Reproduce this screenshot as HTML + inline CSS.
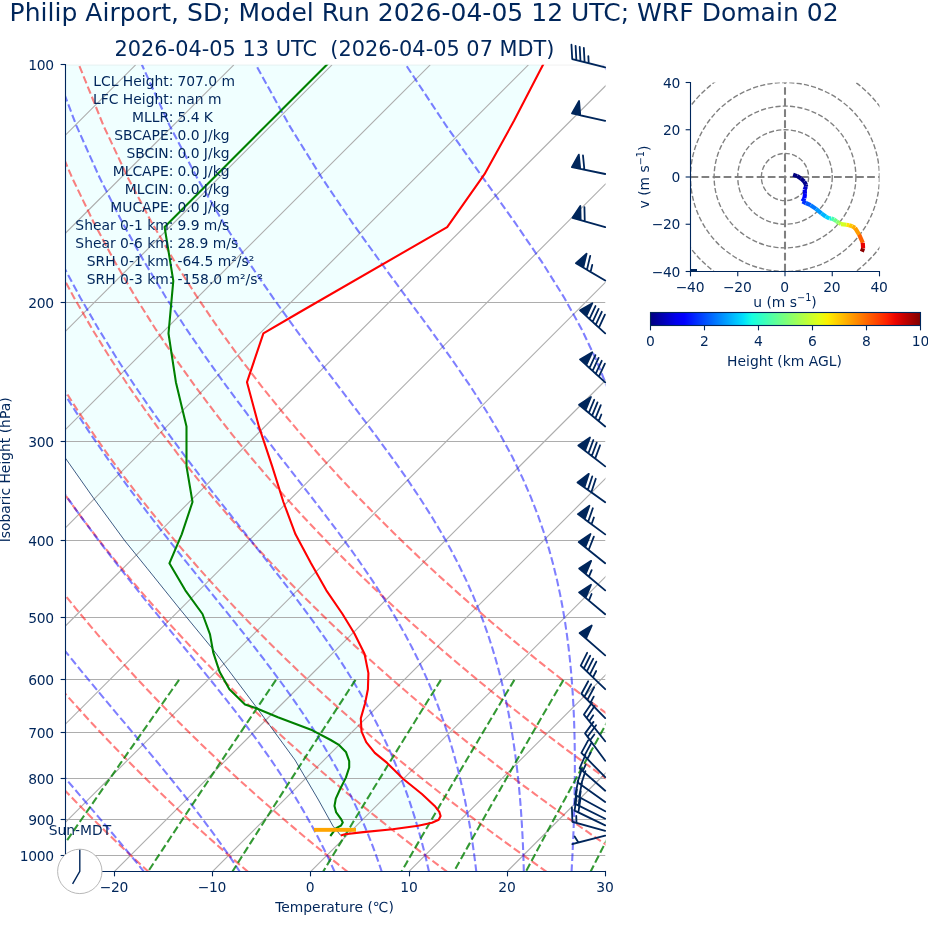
<!DOCTYPE html>
<html><head><meta charset="utf-8"><title>Skew-T</title>
<style>html,body{margin:0;padding:0;background:#fff}svg{display:block;will-change:transform}</style></head>
<body><svg width="928" height="936" viewBox="0 0 928 936">
<rect width="928" height="936" fill="#ffffff"/>
<clipPath id="ax"><rect x="65.5" y="64.8" width="540.0" height="807.1"/></clipPath>
<g clip-path="url(#ax)">
<path d="M340.70,835.40 L333.00,826.10 L318.50,800.00 L295.00,760.00 L257.50,708.70 L212.20,648.40 L179.90,609.10 L147.50,568.80 L124.90,540.90 L93.90,498.60 L65.80,458.70 L63.00,454.80 L63.50,458.70 L63.50,61.50 L544.60,61.50 L543.30,64.20 L514.00,120.80 L484.50,174.20 L447.20,227.10 L300.00,312.00 L263.40,333.30 L247.00,382.20 L258.90,426.40 L272.20,466.30 L283.40,502.00 L295.50,534.30 L311.00,563.30 L326.30,590.30 L342.50,614.00 L354.40,633.50 L364.50,653.80 L368.40,673.10 L367.90,689.30 L365.10,703.30 L360.80,718.40 L361.50,731.30 L366.20,742.10 L374.80,752.90 L387.10,762.90 L403.60,779.20 L421.90,794.00 L434.70,805.90 L439.30,811.90 L440.60,816.00 L438.70,819.70 L432.00,822.80 L418.20,825.70 L392.60,829.20 L363.30,832.10 L345.00,834.30 L340.70,835.40Z" fill="#f0ffff" stroke="none"/>
<path d="M-1162.37,871.9 L-355.27,64.8" stroke="#adadad" stroke-width="1.1" fill="none"/>
<path d="M-1064.19,871.9 L-257.09,64.8" stroke="#adadad" stroke-width="1.1" fill="none"/>
<path d="M-966.01,871.9 L-158.91,64.8" stroke="#adadad" stroke-width="1.1" fill="none"/>
<path d="M-867.83,871.9 L-60.73,64.8" stroke="#adadad" stroke-width="1.1" fill="none"/>
<path d="M-769.65,871.9 L37.45,64.8" stroke="#adadad" stroke-width="1.1" fill="none"/>
<path d="M-671.46,871.9 L135.64,64.8" stroke="#adadad" stroke-width="1.1" fill="none"/>
<path d="M-573.28,871.9 L233.82,64.8" stroke="#adadad" stroke-width="1.1" fill="none"/>
<path d="M-475.10,871.9 L332.00,64.8" stroke="#adadad" stroke-width="1.1" fill="none"/>
<path d="M-376.92,871.9 L430.18,64.8" stroke="#adadad" stroke-width="1.1" fill="none"/>
<path d="M-278.74,871.9 L528.36,64.8" stroke="#adadad" stroke-width="1.1" fill="none"/>
<path d="M-180.55,871.9 L626.55,64.8" stroke="#adadad" stroke-width="1.1" fill="none"/>
<path d="M-82.37,871.9 L724.73,64.8" stroke="#adadad" stroke-width="1.1" fill="none"/>
<path d="M15.81,871.9 L822.91,64.8" stroke="#adadad" stroke-width="1.1" fill="none"/>
<path d="M113.99,871.9 L921.09,64.8" stroke="#adadad" stroke-width="1.1" fill="none"/>
<path d="M212.17,871.9 L1019.27,64.8" stroke="#adadad" stroke-width="1.1" fill="none"/>
<path d="M310.35,871.9 L1117.45,64.8" stroke="#adadad" stroke-width="1.1" fill="none"/>
<path d="M408.54,871.9 L1215.64,64.8" stroke="#adadad" stroke-width="1.1" fill="none"/>
<path d="M506.72,871.9 L1313.82,64.8" stroke="#adadad" stroke-width="1.1" fill="none"/>
<path d="M604.90,871.9 L1412.00,64.8" stroke="#adadad" stroke-width="1.1" fill="none"/>
<path d="M703.08,871.9 L1510.18,64.8" stroke="#adadad" stroke-width="1.1" fill="none"/>
<path d="M801.26,871.9 L1608.36,64.8" stroke="#adadad" stroke-width="1.1" fill="none"/>
<path d="M65.5,64.80 L605.5,64.80" stroke="#adadad" stroke-width="1.1" fill="none" stroke-opacity="0.4"/>
<path d="M65.5,302.50 L605.5,302.50" stroke="#adadad" stroke-width="1.1" fill="none"/>
<path d="M65.5,441.50 L605.5,441.50" stroke="#adadad" stroke-width="1.1" fill="none"/>
<path d="M65.5,540.50 L605.5,540.50" stroke="#adadad" stroke-width="1.1" fill="none"/>
<path d="M65.5,617.50 L605.5,617.50" stroke="#adadad" stroke-width="1.1" fill="none"/>
<path d="M65.5,679.50 L605.5,679.50" stroke="#adadad" stroke-width="1.1" fill="none"/>
<path d="M65.5,732.50 L605.5,732.50" stroke="#adadad" stroke-width="1.1" fill="none"/>
<path d="M65.5,778.50 L605.5,778.50" stroke="#adadad" stroke-width="1.1" fill="none"/>
<path d="M65.5,819.50 L605.5,819.50" stroke="#adadad" stroke-width="1.1" fill="none"/>
<path d="M65.5,855.50 L605.5,855.50" stroke="#adadad" stroke-width="1.1" fill="none"/>
<path d="M-50.37,872.03 L-56.30,865.63 L-62.27,859.11 L-68.29,852.46 L-74.36,845.69 L-80.47,838.77 L-86.64,831.72 L-92.85,824.51 L-99.11,817.16 L-105.43,809.64 L-111.80,801.95 L-118.22,794.08 L-124.69,786.04 L-131.22,777.80 L-137.81,769.35 L-144.45,760.69 L-151.15,751.81 L-157.91,742.70 L-164.72,733.33 L-171.60,723.70 L-178.54,713.80 L-185.54,703.60 L-192.60,693.08 L-199.73,682.24 L-206.92,671.04 L-214.17,659.46 L-221.49,647.48 L-228.86,635.07 L-236.30,622.19 L-243.80,608.81 L-251.36,594.88 L-258.98,580.37 L-266.64,565.22 L-274.36,549.36 L-282.12,532.74 L-289.91,515.27 L-297.72,496.87 L-305.55,477.42 L-313.37,456.81 L-321.15,434.87 L-328.88,411.45 L-336.50,386.30 L-343.96,359.16 L-351.19,329.70 L-358.08,297.46 L-364.48,261.88 L-370.19,222.19 L-374.86,177.30 L-377.99,125.63 L-378.73,64.80" stroke="#ff0000" stroke-opacity="0.5" stroke-width="2.08" stroke-dasharray="7.71 3.33" fill="none"/>
<path d="M49.19,872.03 L42.74,865.63 L36.23,859.11 L29.66,852.46 L23.04,845.69 L16.37,838.77 L9.64,831.72 L2.85,824.51 L-4.00,817.16 L-10.91,809.64 L-17.88,801.95 L-24.91,794.08 L-32.01,786.04 L-39.17,777.80 L-46.40,769.35 L-53.70,760.69 L-61.07,751.81 L-68.51,742.70 L-76.02,733.33 L-83.60,723.70 L-91.27,713.80 L-99.00,703.60 L-106.82,693.08 L-114.72,682.24 L-122.69,671.04 L-130.75,659.46 L-138.90,647.48 L-147.12,635.07 L-155.43,622.19 L-163.83,608.81 L-172.31,594.88 L-180.87,580.37 L-189.52,565.22 L-198.25,549.36 L-207.05,532.74 L-215.92,515.27 L-224.86,496.87 L-233.86,477.42 L-242.90,456.81 L-251.96,434.87 L-261.02,411.45 L-270.04,386.30 L-278.99,359.16 L-287.79,329.70 L-296.36,297.46 L-304.57,261.88 L-312.22,222.19 L-319.02,177.30 L-324.50,125.63 L-327.88,64.80" stroke="#ff0000" stroke-opacity="0.5" stroke-width="2.08" stroke-dasharray="7.71 3.33" fill="none"/>
<path d="M148.75,872.03 L141.77,865.63 L134.72,859.11 L127.61,852.46 L120.44,845.69 L113.21,838.77 L105.91,831.72 L98.55,824.51 L91.12,817.16 L83.62,809.64 L76.04,801.95 L68.40,794.08 L60.68,786.04 L52.88,777.80 L45.01,769.35 L37.05,760.69 L29.01,751.81 L20.89,742.70 L12.69,733.33 L4.39,723.70 L-3.99,713.80 L-12.47,703.60 L-21.04,693.08 L-29.70,682.24 L-38.47,671.04 L-47.34,659.46 L-56.31,647.48 L-65.38,635.07 L-74.56,622.19 L-83.86,608.81 L-93.26,594.88 L-102.77,580.37 L-112.40,565.22 L-122.13,549.36 L-131.98,532.74 L-141.94,515.27 L-152.00,496.87 L-162.17,477.42 L-172.43,456.81 L-182.76,434.87 L-193.16,411.45 L-203.59,386.30 L-214.02,359.16 L-224.40,329.70 L-234.64,297.46 L-244.65,261.88 L-254.25,222.19 L-263.17,177.30 L-271.00,125.63 L-277.02,64.80" stroke="#ff0000" stroke-opacity="0.5" stroke-width="2.08" stroke-dasharray="7.71 3.33" fill="none"/>
<path d="M248.31,872.03 L240.80,865.63 L233.22,859.11 L225.57,852.46 L217.85,845.69 L210.05,838.77 L202.19,831.72 L194.25,824.51 L186.23,817.16 L178.14,809.64 L169.96,801.95 L161.70,794.08 L153.36,786.04 L144.93,777.80 L136.41,769.35 L127.80,760.69 L119.10,751.81 L110.30,742.70 L101.40,733.33 L92.39,723.70 L83.29,713.80 L74.07,703.60 L64.75,693.08 L55.31,682.24 L45.76,671.04 L36.08,659.46 L26.28,647.48 L16.36,635.07 L6.31,622.19 L-3.88,608.81 L-14.20,594.88 L-24.67,580.37 L-35.27,565.22 L-46.02,549.36 L-56.91,532.74 L-67.96,515.27 L-79.14,496.87 L-90.48,477.42 L-101.95,456.81 L-113.56,434.87 L-125.30,411.45 L-137.13,386.30 L-149.05,359.16 L-161.00,329.70 L-172.93,297.46 L-184.73,261.88 L-196.27,222.19 L-207.33,177.30 L-217.51,125.63 L-226.17,64.80" stroke="#ff0000" stroke-opacity="0.5" stroke-width="2.08" stroke-dasharray="7.71 3.33" fill="none"/>
<path d="M347.87,872.03 L339.83,865.63 L331.71,859.11 L323.52,852.46 L315.25,845.69 L306.90,838.77 L298.46,831.72 L289.95,824.51 L281.35,817.16 L272.66,809.64 L263.88,801.95 L255.01,794.08 L246.04,786.04 L236.98,777.80 L227.82,769.35 L218.55,760.69 L209.18,751.81 L199.70,742.70 L190.10,733.33 L180.39,723.70 L170.56,713.80 L160.61,703.60 L150.53,693.08 L140.32,682.24 L129.98,671.04 L119.50,659.46 L108.87,647.48 L98.10,635.07 L87.17,622.19 L76.09,608.81 L64.85,594.88 L53.44,580.37 L41.85,565.22 L30.09,549.36 L18.15,532.74 L6.03,515.27 L-6.28,496.87 L-18.79,477.42 L-31.48,456.81 L-44.37,434.87 L-57.44,411.45 L-70.68,386.30 L-84.08,359.16 L-97.60,329.70 L-111.21,297.46 L-124.81,261.88 L-138.30,222.19 L-151.48,177.30 L-164.01,125.63 L-175.32,64.80" stroke="#ff0000" stroke-opacity="0.5" stroke-width="2.08" stroke-dasharray="7.71 3.33" fill="none"/>
<path d="M447.43,872.03 L438.86,865.63 L430.21,859.11 L421.47,852.46 L412.65,845.69 L403.74,838.77 L394.74,831.72 L385.65,824.51 L376.46,817.16 L367.18,809.64 L357.80,801.95 L348.32,794.08 L338.73,786.04 L329.03,777.80 L319.22,769.35 L309.30,760.69 L299.26,751.81 L289.10,742.70 L278.81,733.33 L268.39,723.70 L257.84,713.80 L247.15,703.60 L236.32,693.08 L225.34,682.24 L214.20,671.04 L202.92,659.46 L191.46,647.48 L179.84,635.07 L168.04,622.19 L156.07,608.81 L143.90,594.88 L131.54,580.37 L118.98,565.22 L106.21,549.36 L93.22,532.74 L80.01,515.27 L66.57,496.87 L52.90,477.42 L38.99,456.81 L24.83,434.87 L10.42,411.45 L-4.23,386.30 L-19.11,359.16 L-34.21,329.70 L-49.49,297.46 L-64.90,261.88 L-80.33,222.19 L-95.64,177.30 L-110.52,125.63 L-124.46,64.80" stroke="#ff0000" stroke-opacity="0.5" stroke-width="2.08" stroke-dasharray="7.71 3.33" fill="none"/>
<path d="M546.99,872.03 L537.89,865.63 L528.70,859.11 L519.42,852.46 L510.05,845.69 L500.58,838.77 L491.02,831.72 L481.35,824.51 L471.58,817.16 L461.70,809.64 L451.72,801.95 L441.62,794.08 L431.41,786.04 L421.08,777.80 L410.63,769.35 L400.05,760.69 L389.34,751.81 L378.50,742.70 L367.51,733.33 L356.39,723.70 L345.11,713.80 L333.69,703.60 L322.10,693.08 L310.35,682.24 L298.43,671.04 L286.33,659.46 L274.05,647.48 L261.58,635.07 L248.91,622.19 L236.04,608.81 L222.95,594.88 L209.64,580.37 L196.10,565.22 L182.32,549.36 L168.29,532.74 L154.00,515.27 L139.43,496.87 L124.59,477.42 L109.46,456.81 L94.02,434.87 L78.28,411.45 L62.23,386.30 L45.86,359.16 L29.19,329.70 L12.23,297.46 L-4.98,261.88 L-22.36,222.19 L-39.79,177.30 L-57.03,125.63 L-73.61,64.80" stroke="#ff0000" stroke-opacity="0.5" stroke-width="2.08" stroke-dasharray="7.71 3.33" fill="none"/>
<path d="M646.55,872.03 L636.92,865.63 L627.20,859.11 L617.37,852.46 L607.45,845.69 L597.42,838.77 L587.29,831.72 L577.05,824.51 L566.70,817.16 L556.23,809.64 L545.64,801.95 L534.93,794.08 L524.10,786.04 L513.13,777.80 L502.03,769.35 L490.80,760.69 L479.42,751.81 L467.90,742.70 L456.22,733.33 L444.39,723.70 L432.39,713.80 L420.23,703.60 L407.89,693.08 L395.36,682.24 L382.65,671.04 L369.75,659.46 L356.64,647.48 L343.32,635.07 L329.78,622.19 L316.01,608.81 L302.00,594.88 L287.75,580.37 L273.23,565.22 L258.43,549.36 L243.36,532.74 L227.98,515.27 L212.29,496.87 L196.28,477.42 L179.93,456.81 L163.22,434.87 L146.14,411.45 L128.68,386.30 L110.83,359.16 L92.59,329.70 L73.95,297.46 L54.94,261.88 L35.61,222.19 L16.05,177.30 L-3.53,125.63 L-22.76,64.80" stroke="#ff0000" stroke-opacity="0.5" stroke-width="2.08" stroke-dasharray="7.71 3.33" fill="none"/>
<path d="M746.11,872.03 L735.95,865.63 L725.69,859.11 L715.33,852.46 L704.85,845.69 L694.27,838.77 L683.57,831.72 L672.75,824.51 L661.81,817.16 L650.75,809.64 L639.56,801.95 L628.24,794.08 L616.78,786.04 L605.18,777.80 L593.44,769.35 L581.55,760.69 L569.50,751.81 L557.30,742.70 L544.93,733.33 L532.39,723.70 L519.67,713.80 L506.76,703.60 L493.67,693.08 L480.38,682.24 L466.88,671.04 L453.17,659.46 L439.23,647.48 L425.06,635.07 L410.65,622.19 L395.99,608.81 L381.06,594.88 L365.85,580.37 L350.35,565.22 L334.55,549.36 L318.42,532.74 L301.97,515.27 L285.15,496.87 L267.97,477.42 L250.40,456.81 L232.42,434.87 L214.00,411.45 L195.14,386.30 L175.80,359.16 L155.98,329.70 L135.67,297.46 L114.86,261.88 L93.58,222.19 L71.90,177.30 L49.96,125.63 L28.10,64.80" stroke="#ff0000" stroke-opacity="0.5" stroke-width="2.08" stroke-dasharray="7.71 3.33" fill="none"/>
<path d="M845.67,872.03 L834.99,865.63 L824.19,859.11 L813.28,852.46 L802.25,845.69 L791.11,838.77 L779.84,831.72 L768.45,824.51 L756.93,817.16 L745.27,809.64 L733.48,801.95 L721.54,794.08 L709.46,786.04 L697.23,777.80 L684.85,769.35 L672.30,760.69 L659.58,751.81 L646.70,742.70 L633.63,733.33 L620.38,723.70 L606.94,713.80 L593.30,703.60 L579.45,693.08 L565.39,682.24 L551.10,671.04 L536.58,659.46 L521.82,647.48 L506.80,635.07 L491.52,622.19 L475.96,608.81 L460.11,594.88 L443.95,580.37 L427.47,565.22 L410.66,549.36 L393.49,532.74 L375.95,515.27 L358.01,496.87 L339.66,477.42 L320.87,456.81 L301.61,434.87 L281.86,411.45 L261.59,386.30 L240.77,359.16 L219.38,329.70 L197.39,297.46 L174.77,261.88 L151.55,222.19 L127.74,177.30 L103.46,125.63 L78.95,64.80" stroke="#ff0000" stroke-opacity="0.5" stroke-width="2.08" stroke-dasharray="7.71 3.33" fill="none"/>
<path d="M-51.25,872.03 L-56.81,865.63 L-62.45,859.11 L-68.16,852.46 L-73.95,845.69 L-79.81,838.77 L-85.74,831.72 L-91.74,824.51 L-97.82,817.16 L-103.96,809.64 L-110.18,801.95 L-116.47,794.08 L-122.83,786.04 L-129.26,777.80 L-135.76,769.35 L-142.33,760.69 L-148.97,751.81 L-155.67,742.70 L-162.45,733.33 L-169.30,723.70 L-176.21,713.80 L-183.20,703.60 L-190.25,693.08 L-197.37,682.24 L-204.56,671.04 L-211.82,659.46 L-219.14,647.48 L-226.54,635.07 L-233.99,622.19 L-241.51,608.81 L-249.09,594.88 L-256.73,580.37 L-264.42,565.22 L-272.16,549.36 L-279.95,532.74 L-287.77,515.27 L-295.62,496.87 L-303.47,477.42 L-311.33,456.81 L-319.15,434.87 L-326.91,411.45 L-334.57,386.30 L-342.08,359.16 L-349.35,329.70 L-356.29,297.46 L-362.75,261.88 L-368.50,222.19 L-373.24,177.30 L-376.44,125.63 L-377.25,64.80" stroke="#0000ff" stroke-opacity="0.5" stroke-width="2.08" stroke-dasharray="7.71 3.33" fill="none"/>
<path d="M47.06,872.03 L41.48,865.63 L35.78,859.11 L29.97,852.46 L24.06,845.69 L18.03,838.77 L11.90,831.72 L5.65,824.51 L-0.70,817.16 L-7.15,809.64 L-13.72,801.95 L-20.39,794.08 L-27.16,786.04 L-34.04,777.80 L-41.02,769.35 L-48.11,760.69 L-55.29,751.81 L-62.57,742.70 L-69.96,733.33 L-77.44,723.70 L-85.02,713.80 L-92.70,703.60 L-100.47,693.08 L-108.35,682.24 L-116.31,671.04 L-124.38,659.46 L-132.54,647.48 L-140.79,635.07 L-149.14,622.19 L-157.58,608.81 L-166.11,594.88 L-174.74,580.37 L-183.45,565.22 L-192.25,549.36 L-201.13,532.74 L-210.08,515.27 L-219.11,496.87 L-228.19,477.42 L-237.32,456.81 L-246.48,434.87 L-255.65,411.45 L-264.78,386.30 L-273.85,359.16 L-282.78,329.70 L-291.48,297.46 L-299.82,261.88 L-307.63,222.19 L-314.59,177.30 L-320.26,125.63 L-323.85,64.80" stroke="#0000ff" stroke-opacity="0.5" stroke-width="2.08" stroke-dasharray="7.71 3.33" fill="none"/>
<path d="M144.25,872.03 L139.08,865.63 L133.76,859.11 L128.29,852.46 L122.67,845.69 L116.89,838.77 L110.95,831.72 L104.85,824.51 L98.60,817.16 L92.18,809.64 L85.60,801.95 L78.87,794.08 L71.97,786.04 L64.92,777.80 L57.71,769.35 L50.34,760.69 L42.82,751.81 L35.15,742.70 L27.32,733.33 L19.34,723.70 L11.22,713.80 L2.95,703.60 L-5.47,693.08 L-14.02,682.24 L-22.72,671.04 L-31.56,659.46 L-40.54,647.48 L-49.65,635.07 L-58.90,622.19 L-68.28,608.81 L-77.79,594.88 L-87.44,580.37 L-97.22,565.22 L-107.12,549.36 L-117.15,532.74 L-127.31,515.27 L-137.58,496.87 L-147.97,477.42 L-158.46,456.81 L-169.05,434.87 L-179.71,411.45 L-190.41,386.30 L-201.14,359.16 L-211.83,329.70 L-222.40,297.46 L-232.77,261.88 L-242.75,222.19 L-252.09,177.30 L-260.39,125.63 L-266.94,64.80" stroke="#0000ff" stroke-opacity="0.5" stroke-width="2.08" stroke-dasharray="7.71 3.33" fill="none"/>
<path d="M240.04,872.03 L235.82,865.63 L231.42,859.11 L226.85,852.46 L222.09,845.69 L217.15,838.77 L212.02,831.72 L206.68,824.51 L201.13,817.16 L195.37,809.64 L189.40,801.95 L183.20,794.08 L176.78,786.04 L170.12,777.80 L163.24,769.35 L156.11,760.69 L148.75,751.81 L141.16,742.70 L133.32,733.33 L125.24,723.70 L116.93,713.80 L108.39,703.60 L99.61,693.08 L90.61,682.24 L81.38,671.04 L71.92,659.46 L62.25,647.48 L52.37,635.07 L42.28,622.19 L31.97,608.81 L21.47,594.88 L10.77,580.37 L-0.13,565.22 L-11.22,549.36 L-22.51,532.74 L-33.98,515.27 L-45.64,496.87 L-57.47,477.42 L-69.49,456.81 L-81.67,434.87 L-94.01,411.45 L-106.48,386.30 L-119.08,359.16 L-131.75,329.70 L-144.45,297.46 L-157.09,261.88 L-169.53,222.19 L-181.56,177.30 L-192.83,125.63 L-202.71,64.80" stroke="#0000ff" stroke-opacity="0.5" stroke-width="2.08" stroke-dasharray="7.71 3.33" fill="none"/>
<path d="M334.72,872.03 L331.83,865.63 L328.80,859.11 L325.62,852.46 L322.27,845.69 L318.75,838.77 L315.04,831.72 L311.15,824.51 L307.04,817.16 L302.72,809.64 L298.17,801.95 L293.38,794.08 L288.33,786.04 L283.01,777.80 L277.42,769.35 L271.52,760.69 L265.32,751.81 L258.80,742.70 L251.95,733.33 L244.75,723.70 L237.20,713.80 L229.29,703.60 L221.00,693.08 L212.35,682.24 L203.31,671.04 L193.90,659.46 L184.11,647.48 L173.95,635.07 L163.41,622.19 L152.51,608.81 L141.25,594.88 L129.65,580.37 L117.70,565.22 L105.43,549.36 L92.83,532.74 L79.92,515.27 L66.71,496.87 L53.20,477.42 L39.40,456.81 L25.31,434.87 L10.95,411.45 L-3.67,386.30 L-18.55,359.16 L-33.65,329.70 L-48.94,297.46 L-64.36,261.88 L-79.81,222.19 L-95.13,177.30 L-110.03,125.63 L-124.00,64.80" stroke="#0000ff" stroke-opacity="0.5" stroke-width="2.08" stroke-dasharray="7.71 3.33" fill="none"/>
<path d="M381.87,872.03 L379.72,865.63 L377.44,859.11 L375.04,852.46 L372.50,845.69 L369.82,838.77 L366.98,831.72 L363.97,824.51 L360.79,817.16 L357.42,809.64 L353.84,801.95 L350.04,794.08 L346.00,786.04 L341.72,777.80 L337.17,769.35 L332.33,760.69 L327.19,751.81 L321.72,742.70 L315.91,733.33 L309.73,723.70 L303.17,713.80 L296.21,703.60 L288.82,693.08 L280.99,682.24 L272.70,671.04 L263.94,659.46 L254.69,647.48 L244.95,635.07 L234.72,622.19 L223.99,608.81 L212.76,594.88 L201.04,580.37 L188.85,565.22 L176.18,549.36 L163.06,532.74 L149.51,515.27 L135.52,496.87 L121.13,477.42 L106.34,456.81 L91.16,434.87 L75.61,411.45 L59.71,386.30 L43.45,359.16 L26.87,329.70 L9.99,297.46 L-7.14,261.88 L-24.45,222.19 L-41.80,177.30 L-58.95,125.63 L-75.44,64.80" stroke="#0000ff" stroke-opacity="0.5" stroke-width="2.08" stroke-dasharray="7.71 3.33" fill="none"/>
<path d="M429.05,872.03 L427.61,865.63 L426.09,859.11 L424.46,852.46 L422.74,845.69 L420.90,838.77 L418.94,831.72 L416.86,824.51 L414.63,817.16 L412.26,809.64 L409.72,801.95 L407.01,794.08 L404.10,786.04 L400.99,777.80 L397.65,769.35 L394.07,760.69 L390.22,751.81 L386.09,742.70 L381.65,733.33 L376.87,723.70 L371.72,713.80 L366.19,703.60 L360.22,693.08 L353.81,682.24 L346.90,671.04 L339.46,659.46 L331.48,647.48 L322.90,635.07 L313.71,622.19 L303.88,608.81 L293.39,594.88 L282.23,580.37 L270.39,565.22 L257.86,549.36 L244.67,532.74 L230.81,515.27 L216.31,496.87 L201.20,477.42 L185.49,456.81 L169.22,434.87 L152.41,411.45 L135.08,386.30 L117.25,359.16 L98.95,329.70 L80.20,297.46 L61.04,261.88 L41.53,222.19 L21.76,177.30 L1.94,125.63 L-17.55,64.80" stroke="#0000ff" stroke-opacity="0.5" stroke-width="2.08" stroke-dasharray="7.71 3.33" fill="none"/>
<path d="M476.35,872.03 L475.58,865.63 L474.76,859.11 L473.87,852.46 L472.91,845.69 L471.87,838.77 L470.76,831.72 L469.55,824.51 L468.25,817.16 L466.85,809.64 L465.33,801.95 L463.69,794.08 L461.91,786.04 L459.98,777.80 L457.89,769.35 L455.61,760.69 L453.15,751.81 L450.46,742.70 L447.54,733.33 L444.35,723.70 L440.88,713.80 L437.08,703.60 L432.93,693.08 L428.38,682.24 L423.41,671.04 L417.95,659.46 L411.97,647.48 L405.41,635.07 L398.22,622.19 L390.34,608.81 L381.70,594.88 L372.25,580.37 L361.95,565.22 L350.73,549.36 L338.56,532.74 L325.42,515.27 L311.29,496.87 L296.19,477.42 L280.13,456.81 L263.14,434.87 L245.27,411.45 L226.56,386.30 L207.07,359.16 L186.84,329.70 L165.92,297.46 L144.34,261.88 L122.16,222.19 L99.46,177.30 L76.37,125.63 L53.21,64.80" stroke="#0000ff" stroke-opacity="0.5" stroke-width="2.08" stroke-dasharray="7.71 3.33" fill="none"/>
<path d="M523.84,872.03 L523.67,865.63 L523.47,859.11 L523.24,852.46 L522.97,845.69 L522.65,838.77 L522.29,831.72 L521.88,824.51 L521.42,817.16 L520.89,809.64 L520.30,801.95 L519.63,794.08 L518.88,786.04 L518.04,777.80 L517.10,769.35 L516.05,760.69 L514.88,751.81 L513.57,742.70 L512.11,733.33 L510.47,723.70 L508.65,713.80 L506.62,703.60 L504.34,693.08 L501.79,682.24 L498.94,671.04 L495.75,659.46 L492.16,647.48 L488.13,635.07 L483.60,622.19 L478.50,608.81 L472.74,594.88 L466.25,580.37 L458.93,565.22 L450.67,549.36 L441.36,532.74 L430.87,515.27 L419.11,496.87 L405.97,477.42 L391.36,456.81 L375.23,434.87 L357.58,411.45 L338.44,386.30 L317.85,359.16 L295.93,329.70 L272.76,297.46 L248.45,261.88 L223.10,222.19 L196.79,177.30 L169.65,125.63 L141.89,64.80" stroke="#0000ff" stroke-opacity="0.5" stroke-width="2.08" stroke-dasharray="7.71 3.33" fill="none"/>
<path d="M571.54,872.03 L571.90,865.63 L572.24,859.11 L572.57,852.46 L572.89,845.69 L573.19,838.77 L573.48,831.72 L573.75,824.51 L574.00,817.16 L574.22,809.64 L574.42,801.95 L574.58,794.08 L574.72,786.04 L574.81,777.80 L574.85,769.35 L574.85,760.69 L574.79,751.81 L574.66,742.70 L574.46,733.33 L574.17,723.70 L573.79,713.80 L573.30,703.60 L572.69,693.08 L571.93,682.24 L571.00,671.04 L569.89,659.46 L568.55,647.48 L566.96,635.07 L565.08,622.19 L562.85,608.81 L560.21,594.88 L557.10,580.37 L553.42,565.22 L549.08,549.36 L543.96,532.74 L537.90,515.27 L530.74,496.87 L522.27,477.42 L512.25,456.81 L500.43,434.87 L486.56,411.45 L470.38,386.30 L451.70,359.16 L430.44,329.70 L406.61,297.46 L380.36,261.88 L351.91,222.19 L321.51,177.30 L289.41,125.63 L255.85,64.80" stroke="#0000ff" stroke-opacity="0.5" stroke-width="2.08" stroke-dasharray="7.71 3.33" fill="none"/>
<path d="M619.48,872.03 L620.27,865.63 L621.06,859.11 L621.86,852.46 L622.67,845.69 L623.49,838.77 L624.31,831.72 L625.14,824.51 L625.97,817.16 L626.81,809.64 L627.65,801.95 L628.49,794.08 L629.34,786.04 L630.18,777.80 L631.03,769.35 L631.87,760.69 L632.70,751.81 L633.52,742.70 L634.33,733.33 L635.12,723.70 L635.89,713.80 L636.63,703.60 L637.34,693.08 L638.00,682.24 L638.61,671.04 L639.16,659.46 L639.64,647.48 L640.01,635.07 L640.28,622.19 L640.41,608.81 L640.37,594.88 L640.13,580.37 L639.63,565.22 L638.83,549.36 L637.66,532.74 L636.01,515.27 L633.78,496.87 L630.82,477.42 L626.93,456.81 L621.87,434.87 L615.31,411.45 L606.83,386.30 L595.91,359.16 L581.90,329.70 L564.10,297.46 L541.83,261.88 L514.67,222.19 L482.61,177.30 L446.08,125.63 L405.81,64.80" stroke="#0000ff" stroke-opacity="0.5" stroke-width="2.08" stroke-dasharray="7.71 3.33" fill="none"/>
<path d="M667.64,872.03 L668.78,865.63 L669.93,859.11 L671.11,852.46 L672.31,845.69 L673.54,838.77 L674.79,831.72 L676.06,824.51 L677.36,817.16 L678.68,809.64 L680.03,801.95 L681.41,794.08 L682.81,786.04 L684.25,777.80 L685.71,769.35 L687.20,760.69 L688.72,751.81 L690.27,742.70 L691.84,733.33 L693.45,723.70 L695.09,713.80 L696.76,703.60 L698.46,693.08 L700.19,682.24 L701.94,671.04 L703.72,659.46 L705.52,647.48 L707.34,635.07 L709.18,622.19 L711.02,608.81 L712.86,594.88 L714.70,580.37 L716.50,565.22 L718.27,549.36 L719.97,532.74 L721.57,515.27 L723.03,496.87 L724.29,477.42 L725.27,456.81 L725.87,434.87 L725.93,411.45 L725.25,386.30 L723.50,359.16 L720.25,329.70 L714.82,297.46 L706.19,261.88 L692.89,222.19 L672.83,177.30 L643.60,125.63 L603.50,64.80" stroke="#0000ff" stroke-opacity="0.5" stroke-width="2.08" stroke-dasharray="7.71 3.33" fill="none"/>
<path d="M716.00,872.03 L717.41,865.63 L718.85,859.11 L720.33,852.46 L721.84,845.69 L723.38,838.77 L724.96,831.72 L726.58,824.51 L728.23,817.16 L729.93,809.64 L731.67,801.95 L733.45,794.08 L735.28,786.04 L737.15,777.80 L739.08,769.35 L741.06,760.69 L743.09,751.81 L745.18,742.70 L747.33,733.33 L749.54,723.70 L751.81,713.80 L754.16,703.60 L756.57,693.08 L759.06,682.24 L761.63,671.04 L764.28,659.46 L767.02,647.48 L769.85,635.07 L772.77,622.19 L775.79,608.81 L778.92,594.88 L782.16,580.37 L785.51,565.22 L788.98,549.36 L792.57,532.74 L796.28,515.27 L800.12,496.87 L804.09,477.42 L808.17,456.81 L812.35,434.87 L816.62,411.45 L820.93,386.30 L825.21,359.16 L829.36,329.70 L833.18,297.46 L836.36,261.88 L838.31,222.19 L838.01,177.30 L833.43,125.63 L820.57,64.80" stroke="#0000ff" stroke-opacity="0.5" stroke-width="2.08" stroke-dasharray="7.71 3.33" fill="none"/>
<path d="M764.54,872.03 L766.16,865.63 L767.82,859.11 L769.52,852.46 L771.25,845.69 L773.04,838.77 L774.86,831.72 L776.74,824.51 L778.66,817.16 L780.63,809.64 L782.66,801.95 L784.74,794.08 L786.88,786.04 L789.09,777.80 L791.35,769.35 L793.69,760.69 L796.09,751.81 L798.57,742.70 L801.13,733.33 L803.77,723.70 L806.50,713.80 L809.32,703.60 L812.24,693.08 L815.27,682.24 L818.40,671.04 L821.66,659.46 L825.04,647.48 L828.55,635.07 L832.21,622.19 L836.03,608.81 L840.01,594.88 L844.18,580.37 L848.54,565.22 L853.11,549.36 L857.90,532.74 L862.95,515.27 L868.28,496.87 L873.90,477.42 L879.85,456.81 L886.16,434.87 L892.88,411.45 L900.04,386.30 L907.69,359.16 L915.88,329.70 L924.68,297.46 L934.13,261.88 L944.25,222.19 L955.01,177.30 L966.22,125.63 L977.23,64.80" stroke="#0000ff" stroke-opacity="0.5" stroke-width="2.08" stroke-dasharray="7.71 3.33" fill="none"/>
<path d="M813.22,872.03 L815.00,865.63 L816.81,859.11 L818.68,852.46 L820.58,845.69 L822.54,838.77 L824.55,831.72 L826.60,824.51 L828.72,817.16 L830.89,809.64 L833.13,801.95 L835.42,794.08 L837.79,786.04 L840.22,777.80 L842.73,769.35 L845.31,760.69 L847.98,751.81 L850.73,742.70 L853.57,733.33 L856.51,723.70 L859.56,713.80 L862.71,703.60 L865.98,693.08 L869.37,682.24 L872.89,671.04 L876.55,659.46 L880.37,647.48 L884.34,635.07 L888.49,622.19 L892.83,608.81 L897.38,594.88 L902.14,580.37 L907.15,565.22 L912.43,549.36 L917.99,532.74 L923.87,515.27 L930.11,496.87 L936.75,477.42 L943.82,456.81 L951.40,434.87 L959.54,411.45 L968.32,386.30 L977.86,359.16 L988.26,329.70 L999.68,297.46 L1012.32,261.88 L1026.44,222.19 L1042.38,177.30 L1060.61,125.63 L1081.77,64.80" stroke="#0000ff" stroke-opacity="0.5" stroke-width="2.08" stroke-dasharray="7.71 3.33" fill="none"/>
<path d="M179.04,679.91 L175.37,685.13 L171.75,690.26 L168.18,695.32 L164.67,700.31 L161.22,705.23 L157.81,710.07 L154.45,714.85 L151.14,719.57 L147.88,724.22 L144.66,728.80 L141.49,733.33 L138.36,737.80 L135.27,742.21 L132.22,746.56 L129.22,750.87 L126.25,755.11 L123.32,759.31 L120.42,763.45 L117.56,767.55 L114.74,771.59 L111.95,775.59 L109.20,779.55 L106.47,783.46 L103.78,787.32 L101.12,791.14 L98.50,794.92 L95.90,798.66 L93.33,802.36 L90.79,806.02 L88.27,809.64 L85.79,813.22 L83.33,816.76 L80.89,820.27 L78.49,823.75 L76.11,827.19 L73.75,830.59 L71.42,833.96 L69.11,837.30 L66.82,840.61 L64.56,843.88 L62.32,847.12 L60.10,850.34 L57.90,853.52 L55.72,856.68 L53.57,859.80 L51.43,862.90 L49.32,865.97 L47.22,869.01 L45.14,872.03" stroke="#008000" stroke-opacity="0.8" stroke-width="2.08" stroke-dasharray="7.71 3.33" fill="none"/>
<path d="M276.00,679.91 L272.47,685.13 L269.00,690.26 L265.58,695.32 L262.21,700.31 L258.89,705.23 L255.62,710.07 L252.40,714.85 L249.23,719.57 L246.10,724.22 L243.02,728.80 L239.97,733.33 L236.97,737.80 L234.01,742.21 L231.09,746.56 L228.21,750.87 L225.37,755.11 L222.56,759.31 L219.78,763.45 L217.05,767.55 L214.34,771.59 L211.67,775.59 L209.03,779.55 L206.43,783.46 L203.85,787.32 L201.30,791.14 L198.79,794.92 L196.30,798.66 L193.84,802.36 L191.41,806.02 L189.01,809.64 L186.63,813.22 L184.27,816.76 L181.95,820.27 L179.64,823.75 L177.37,827.19 L175.11,830.59 L172.88,833.96 L170.67,837.30 L168.49,840.61 L166.32,843.88 L164.18,847.12 L162.06,850.34 L159.96,853.52 L157.88,856.68 L155.82,859.80 L153.78,862.90 L151.76,865.97 L149.76,869.01 L147.77,872.03" stroke="#008000" stroke-opacity="0.8" stroke-width="2.08" stroke-dasharray="7.71 3.33" fill="none"/>
<path d="M355.50,679.91 L352.10,685.13 L348.75,690.26 L345.45,695.32 L342.21,700.31 L339.01,705.23 L335.86,710.07 L332.76,714.85 L329.70,719.57 L326.69,724.22 L323.71,728.80 L320.78,733.33 L317.89,737.80 L315.04,742.21 L312.23,746.56 L309.46,750.87 L306.72,755.11 L304.02,759.31 L301.35,763.45 L298.71,767.55 L296.11,771.59 L293.54,775.59 L291.00,779.55 L288.49,783.46 L286.02,787.32 L283.57,791.14 L281.15,794.92 L278.75,798.66 L276.39,802.36 L274.05,806.02 L271.74,809.64 L269.45,813.22 L267.19,816.76 L264.95,820.27 L262.74,823.75 L260.55,827.19 L258.39,830.59 L256.24,833.96 L254.12,837.30 L252.02,840.61 L249.94,843.88 L247.89,847.12 L245.85,850.34 L243.83,853.52 L241.83,856.68 L239.86,859.80 L237.90,862.90 L235.96,865.97 L234.03,869.01 L232.13,872.03" stroke="#008000" stroke-opacity="0.8" stroke-width="2.08" stroke-dasharray="7.71 3.33" fill="none"/>
<path d="M440.87,679.91 L437.60,685.13 L434.39,690.26 L431.23,695.32 L428.12,700.31 L425.06,705.23 L422.04,710.07 L419.07,714.85 L416.14,719.57 L413.25,724.22 L410.41,728.80 L407.60,733.33 L404.84,737.80 L402.11,742.21 L399.42,746.56 L396.76,750.87 L394.14,755.11 L391.56,759.31 L389.00,763.45 L386.48,767.55 L383.99,771.59 L381.54,775.59 L379.11,779.55 L376.71,783.46 L374.34,787.32 L372.00,791.14 L369.69,794.92 L367.41,798.66 L365.15,802.36 L362.91,806.02 L360.70,809.64 L358.52,813.22 L356.36,816.76 L354.22,820.27 L352.11,823.75 L350.02,827.19 L347.95,830.59 L345.91,833.96 L343.88,837.30 L341.88,840.61 L339.90,843.88 L337.93,847.12 L335.99,850.34 L334.07,853.52 L332.16,856.68 L330.27,859.80 L328.41,862.90 L326.56,865.97 L324.72,869.01 L322.91,872.03" stroke="#008000" stroke-opacity="0.8" stroke-width="2.08" stroke-dasharray="7.71 3.33" fill="none"/>
<path d="M514.37,679.91 L511.23,685.13 L508.15,690.26 L505.11,695.32 L502.12,700.31 L499.18,705.23 L496.28,710.07 L493.42,714.85 L490.61,719.57 L487.83,724.22 L485.10,728.80 L482.41,733.33 L479.75,737.80 L477.13,742.21 L474.55,746.56 L472.00,750.87 L469.48,755.11 L467.00,759.31 L464.55,763.45 L462.14,767.55 L459.75,771.59 L457.39,775.59 L455.07,779.55 L452.77,783.46 L450.50,787.32 L448.25,791.14 L446.03,794.92 L443.84,798.66 L441.68,802.36 L439.54,806.02 L437.42,809.64 L435.33,813.22 L433.26,816.76 L431.22,820.27 L429.19,823.75 L427.19,827.19 L425.21,830.59 L423.25,833.96 L421.31,837.30 L419.40,840.61 L417.50,843.88 L415.62,847.12 L413.76,850.34 L411.92,853.52 L410.10,856.68 L408.29,859.80 L406.51,862.90 L404.74,865.97 L402.98,869.01 L401.25,872.03" stroke="#008000" stroke-opacity="0.8" stroke-width="2.08" stroke-dasharray="7.71 3.33" fill="none"/>
<path d="M563.45,679.91 L560.40,685.13 L557.39,690.26 L554.44,695.32 L551.53,700.31 L548.67,705.23 L545.85,710.07 L543.08,714.85 L540.34,719.57 L537.65,724.22 L534.99,728.80 L532.37,733.33 L529.79,737.80 L527.25,742.21 L524.74,746.56 L522.26,750.87 L519.82,755.11 L517.41,759.31 L515.03,763.45 L512.68,767.55 L510.37,771.59 L508.08,775.59 L505.82,779.55 L503.59,783.46 L501.39,787.32 L499.21,791.14 L497.06,794.92 L494.93,798.66 L492.83,802.36 L490.75,806.02 L488.70,809.64 L486.67,813.22 L484.67,816.76 L482.68,820.27 L480.72,823.75 L478.78,827.19 L476.86,830.59 L474.96,833.96 L473.08,837.30 L471.22,840.61 L469.38,843.88 L467.56,847.12 L465.76,850.34 L463.98,853.52 L462.21,856.68 L460.46,859.80 L458.73,862.90 L457.02,865.97 L455.32,869.01 L453.64,872.03" stroke="#008000" stroke-opacity="0.8" stroke-width="2.08" stroke-dasharray="7.71 3.33" fill="none"/>
<path d="M630.79,679.91 L627.86,685.13 L624.97,690.26 L622.14,695.32 L619.35,700.31 L616.60,705.23 L613.89,710.07 L611.23,714.85 L608.60,719.57 L606.02,724.22 L603.47,728.80 L600.96,733.33 L598.49,737.80 L596.05,742.21 L593.64,746.56 L591.27,750.87 L588.93,755.11 L586.62,759.31 L584.34,763.45 L582.09,767.55 L579.87,771.59 L577.68,775.59 L575.52,779.55 L573.38,783.46 L571.27,787.32 L569.19,791.14 L567.13,794.92 L565.10,798.66 L563.09,802.36 L561.10,806.02 L559.14,809.64 L557.20,813.22 L555.28,816.76 L553.38,820.27 L551.51,823.75 L549.65,827.19 L547.82,830.59 L546.00,833.96 L544.21,837.30 L542.43,840.61 L540.67,843.88 L538.93,847.12 L537.21,850.34 L535.51,853.52 L533.82,856.68 L532.15,859.80 L530.50,862.90 L528.87,865.97 L527.25,869.01 L525.64,872.03" stroke="#008000" stroke-opacity="0.8" stroke-width="2.08" stroke-dasharray="7.71 3.33" fill="none"/>
<path d="M691.24,679.91 L688.42,685.13 L685.65,690.26 L682.92,695.32 L680.24,700.31 L677.60,705.23 L675.00,710.07 L672.43,714.85 L669.91,719.57 L667.43,724.22 L664.98,728.80 L662.57,733.33 L660.19,737.80 L657.85,742.21 L655.54,746.56 L653.26,750.87 L651.02,755.11 L648.80,759.31 L646.61,763.45 L644.46,767.55 L642.33,771.59 L640.23,775.59 L638.15,779.55 L636.10,783.46 L634.08,787.32 L632.08,791.14 L630.11,794.92 L628.16,798.66 L626.23,802.36 L624.33,806.02 L622.45,809.64 L620.59,813.22 L618.75,816.76 L616.94,820.27 L615.14,823.75 L613.36,827.19 L611.61,830.59 L609.87,833.96 L608.15,837.30 L606.45,840.61 L604.77,843.88 L603.11,847.12 L601.46,850.34 L599.83,853.52 L598.22,856.68 L596.62,859.80 L595.04,862.90 L593.48,865.97 L591.93,869.01 L590.40,872.03" stroke="#008000" stroke-opacity="0.8" stroke-width="2.08" stroke-dasharray="7.71 3.33" fill="none"/>
<path d="M735.36,679.91 L732.63,685.13 L729.93,690.26 L727.29,695.32 L724.68,700.31 L722.12,705.23 L719.60,710.07 L717.11,714.85 L714.67,719.57 L712.26,724.22 L709.89,728.80 L707.55,733.33 L705.24,737.80 L702.97,742.21 L700.73,746.56 L698.53,750.87 L696.35,755.11 L694.20,759.31 L692.09,763.45 L690.00,767.55 L687.93,771.59 L685.90,775.59 L683.89,779.55 L681.91,783.46 L679.95,787.32 L678.02,791.14 L676.11,794.92 L674.22,798.66 L672.36,802.36 L670.52,806.02 L668.70,809.64 L666.90,813.22 L665.12,816.76 L663.36,820.27 L661.63,823.75 L659.91,827.19 L658.21,830.59 L656.53,833.96 L654.87,837.30 L653.23,840.61 L651.61,843.88 L650.00,847.12 L648.41,850.34 L646.83,853.52 L645.28,856.68 L643.74,859.80 L642.21,862.90 L640.70,865.97 L639.21,869.01 L637.73,872.03" stroke="#008000" stroke-opacity="0.8" stroke-width="2.08" stroke-dasharray="7.71 3.33" fill="none"/>
<path d="M63.00,454.80 L65.80,458.70 L93.90,498.60 L124.90,540.90 L147.50,568.80 L179.90,609.10 L212.20,648.40 L257.50,708.70 L295.00,760.00 L318.50,800.00 L333.00,826.10 L340.70,835.40" stroke="#00265b" stroke-width="0.75" fill="none" stroke-linejoin="round" />
<path d="M544.60,61.50 L543.30,64.20 L514.00,120.80 L484.50,174.20 L447.20,227.10 L300.00,312.00 L263.40,333.30 L247.00,382.20 L258.90,426.40 L272.20,466.30 L283.40,502.00 L295.50,534.30 L311.00,563.30 L326.30,590.30 L342.50,614.00 L354.40,633.50 L364.50,653.80 L368.40,673.10 L367.90,689.30 L365.10,703.30 L360.80,718.40 L361.50,731.30 L366.20,742.10 L374.80,752.90 L387.10,762.90 L403.60,779.20 L421.90,794.00 L434.70,805.90 L439.30,811.90 L440.60,816.00 L438.70,819.70 L432.00,822.80 L418.20,825.70 L392.60,829.20 L363.30,832.10 L345.00,834.30 L340.70,835.40" stroke="#ff0000" stroke-width="2.08" fill="none" stroke-linejoin="round" />
<path d="M330.00,61.50 L327.30,64.20 L164.60,227.00 L173.30,280.80 L168.50,333.50 L175.90,382.20 L186.50,426.40 L186.50,466.30 L192.50,502.00 L181.70,534.30 L169.40,563.30 L185.30,590.30 L202.50,614.00 L210.00,634.40 L213.30,652.70 L219.70,672.10 L229.40,689.30 L245.00,704.40 L257.50,708.70 L277.90,717.30 L312.40,730.30 L330.70,740.00 L338.50,744.60 L345.90,751.90 L349.20,761.10 L349.20,767.50 L345.90,777.60 L340.40,788.50 L335.80,798.60 L334.50,805.90 L336.20,812.40 L340.90,818.80 L342.80,822.40 L340.90,825.70 L336.20,828.20 L330.30,836.00" stroke="#008000" stroke-width="2.08" fill="none" stroke-linejoin="round" />
<rect x="314" y="827.9" width="42" height="3.9" fill="#ffa500"/>
</g>
<g fill="#00265b" stroke="#00265b" stroke-width="1.8" stroke-linejoin="round">
<path d="M605.20,67.40 L572.22,59.01 L571.46,44.77 L572.22,59.01 L576.35,60.06 L575.58,45.82 L576.35,60.06 L580.47,61.11 L579.70,46.87 L580.47,61.11 L584.59,62.16 L583.82,47.92 L584.59,62.16 L588.71,63.20 L588.33,56.08 L588.71,63.20Z"/>
<path d="M605.20,120.80 L571.98,113.43 L579.08,101.06 L580.29,115.27Z"/>
<path d="M605.20,174.00 L571.88,167.08 L578.81,154.62 L580.21,168.81 L584.38,169.68 L582.98,155.49 L584.38,169.68Z"/>
<path d="M605.20,227.20 L572.49,217.83 L580.33,205.91 L580.67,220.17 L584.76,221.34 L584.42,207.09 L584.76,221.34Z"/>
<path d="M605.20,280.60 L575.96,263.19 L586.58,253.67 L583.27,267.55 L586.93,269.72 L590.23,255.85 L586.93,269.72 L590.58,271.90 L592.23,264.96 L590.58,271.90Z"/>
<path d="M605.20,333.30 L580.04,310.39 L592.35,303.19 L586.33,316.11 L589.48,318.98 L595.50,306.05 L589.48,318.98 L592.62,321.84 L598.64,308.92 L592.62,321.84 L595.77,324.71 L601.79,311.78 L595.77,324.71 L598.91,327.57 L604.93,314.64 L598.91,327.57Z"/>
<path d="M605.20,382.30 L579.99,359.44 L592.29,352.22 L586.30,365.15 L589.45,368.01 L595.44,355.07 L589.45,368.01 L592.60,370.87 L598.59,357.93 L592.60,370.87 L595.75,373.73 L601.74,360.79 L595.75,373.73 L598.90,376.58 L604.89,363.65 L598.90,376.58Z"/>
<path d="M605.20,426.50 L579.00,404.78 L590.96,397.02 L585.55,410.21 L588.83,412.93 L594.24,399.73 L588.83,412.93 L592.10,415.64 L597.51,402.45 L592.10,415.64 L595.38,418.36 L600.79,405.16 L595.38,418.36 L598.65,421.07 L601.36,414.47 L598.65,421.07Z"/>
<path d="M605.20,466.40 L578.31,445.55 L590.01,437.40 L585.03,450.76 L588.39,453.37 L593.37,440.01 L588.39,453.37 L591.75,455.97 L596.73,442.61 L591.75,455.97 L595.12,458.58 L600.09,445.22 L595.12,458.58Z"/>
<path d="M605.20,502.20 L577.48,482.46 L588.85,473.84 L584.41,487.39 L587.88,489.86 L592.31,476.31 L587.88,489.86 L591.34,492.33 L595.77,478.78 L591.34,492.33Z"/>
<path d="M605.20,534.40 L577.88,514.11 L589.42,505.72 L584.71,519.18 L588.13,521.72 L592.83,508.26 L588.13,521.72 L591.54,524.25 L593.89,517.52 L591.54,524.25Z"/>
<path d="M605.20,563.30 L578.70,541.96 L590.54,534.03 L585.32,547.29 L588.63,549.96 L593.86,536.69 L588.63,549.96Z"/>
<path d="M605.20,590.40 L579.15,568.51 L591.16,560.83 L585.66,573.98 L588.92,576.72 L591.67,570.14 L588.92,576.72Z"/>
<path d="M605.20,614.20 L579.05,592.43 L591.03,584.69 L585.59,597.87 L588.86,600.59 L591.58,594.00 L588.86,600.59Z"/>
<path d="M605.20,655.40 L579.57,633.01 L591.73,625.56 L585.98,638.61Z"/>
<path d="M605.20,689.20 L580.75,665.54 L587.16,652.80 L580.75,665.54 L583.80,668.49 L590.21,655.76 L583.80,668.49 L586.86,671.45 L593.27,658.71 L586.86,671.45 L589.92,674.41 L596.33,661.67 L589.92,674.41 L592.97,677.37 L596.18,671.00 L592.97,677.37Z"/>
<path d="M605.20,718.10 L581.44,693.75 L588.21,681.20 L581.44,693.75 L584.41,696.79 L591.18,684.24 L584.41,696.79 L587.38,699.83 L594.15,687.28 L587.38,699.83 L590.35,702.88 L593.73,696.60 L590.35,702.88Z"/>
<path d="M605.20,741.20 L583.96,714.62 L591.93,702.80 L583.96,714.62 L586.61,717.94 L594.59,706.12 L586.61,717.94 L589.27,721.26 L593.25,715.35 L589.27,721.26Z"/>
<path d="M605.20,760.80 L585.06,733.37 L593.52,721.89 L585.06,733.37 L587.58,736.80 L596.04,725.31 L587.58,736.80 L590.10,740.23 L594.33,734.49 L590.10,740.23Z"/>
<path d="M605.20,777.20 L581.39,752.89 L588.13,740.33 L581.39,752.89 L584.36,755.93 L591.11,743.37 L584.36,755.93 L587.34,758.97 L590.71,752.69 L587.34,758.97Z"/>
<path d="M605.20,790.70 L579.59,768.29 L585.35,755.25 L579.59,768.29 L582.79,771.09 L585.67,764.57 L582.79,771.09Z"/>
<path d="M605.20,802.00 L577.52,782.21 L581.97,768.67 L577.52,782.21 L580.98,784.69 L585.43,771.14 L580.98,784.69Z"/>
<path d="M605.20,811.30 L575.32,795.01 L578.10,781.03 L575.32,795.01 L579.06,797.05 L581.84,783.06 L579.06,797.05Z"/>
<path d="M605.20,818.70 L574.69,803.64 L576.89,789.55 L574.69,803.64 L578.50,805.52 L580.71,791.44 L578.50,805.52Z"/>
<path d="M605.20,825.40 L574.57,810.58 L576.67,796.47 L574.57,810.58 L578.40,812.43 L580.50,798.32 L578.40,812.43Z"/>
<path d="M605.20,830.80 L572.39,821.77 L571.90,807.52 L572.39,821.77 L576.49,822.90 L576.25,815.78 L576.49,822.90Z"/>
<path d="M605.20,835.60 L572.25,844.08 L578.43,842.49 L574.67,836.43 L578.43,842.49Z"/>
</g>
<g stroke="#00265b" stroke-width="1.11" fill="none">
<path d="M65.5,64.0 L65.5,872.05"/>
<path d="M64.95,871.5 L606.05,871.5"/>
<path d="M60.64,64.50 L65.5,64.50"/>
<path d="M60.64,302.50 L65.5,302.50"/>
<path d="M60.64,441.50 L65.5,441.50"/>
<path d="M60.64,540.50 L65.5,540.50"/>
<path d="M60.64,617.50 L65.5,617.50"/>
<path d="M60.64,679.50 L65.5,679.50"/>
<path d="M60.64,732.50 L65.5,732.50"/>
<path d="M60.64,778.50 L65.5,778.50"/>
<path d="M60.64,819.50 L65.5,819.50"/>
<path d="M60.64,855.50 L65.5,855.50"/>
<path d="M114.50,871.5 L114.50,876.36"/>
<path d="M212.50,871.5 L212.50,876.36"/>
<path d="M310.50,871.5 L310.50,876.36"/>
<path d="M409.50,871.5 L409.50,876.36"/>
<path d="M507.50,871.5 L507.50,876.36"/>
<path d="M605.50,871.5 L605.50,876.36"/>
</g>
<g font-family="'DejaVu Sans', 'Liberation Sans', sans-serif" font-size="13.889" fill="#00265b">
<text x="53.90" y="69.60" text-anchor="end" letter-spacing="-0.3">100</text>
<text x="53.90" y="307.60" text-anchor="end" letter-spacing="-0.3">200</text>
<text x="53.90" y="446.60" text-anchor="end" letter-spacing="-0.3">300</text>
<text x="53.90" y="545.60" text-anchor="end" letter-spacing="-0.3">400</text>
<text x="53.90" y="622.60" text-anchor="end" letter-spacing="-0.3">500</text>
<text x="53.90" y="684.60" text-anchor="end" letter-spacing="-0.3">600</text>
<text x="53.90" y="737.60" text-anchor="end" letter-spacing="-0.3">700</text>
<text x="53.90" y="783.60" text-anchor="end" letter-spacing="-0.3">800</text>
<text x="53.90" y="824.60" text-anchor="end" letter-spacing="-0.3">900</text>
<text x="53.90" y="860.60" text-anchor="end" letter-spacing="-0.3">1000</text>
<text x="113.90" y="891.90" text-anchor="middle" letter-spacing="-0.3">−20</text>
<text x="211.90" y="891.90" text-anchor="middle" letter-spacing="-0.3">−10</text>
<text x="309.90" y="891.90" text-anchor="middle" letter-spacing="-0.3">0</text>
<text x="408.90" y="891.90" text-anchor="middle" letter-spacing="-0.3">10</text>
<text x="506.90" y="891.90" text-anchor="middle" letter-spacing="-0.3">20</text>
<text x="604.90" y="891.90" text-anchor="middle" letter-spacing="-0.3">30</text>
<text x="334.50" y="911.6" text-anchor="middle">Temperature (℃)</text>
<text transform="translate(10.2,469.85) rotate(-90)" text-anchor="middle">Isobaric Height (hPa)</text>
<text x="48.7" y="834.9">Sun-MDT</text>
<text x="173.4" y="85.65" text-anchor="end">LCL Height:</text><text x="177.4" y="85.65">707.0 m</text>
<text x="173.4" y="103.65" text-anchor="end">LFC Height:</text><text x="177.4" y="103.65">nan m</text>
<text x="173.4" y="121.65" text-anchor="end">MLLR:</text><text x="177.4" y="121.65">5.4 K</text>
<text x="173.4" y="139.65" text-anchor="end">SBCAPE:</text><text x="177.4" y="139.65">0.0 J/kg</text>
<text x="173.4" y="157.65" text-anchor="end">SBCIN:</text><text x="177.4" y="157.65">0.0 J/kg</text>
<text x="173.4" y="175.65" text-anchor="end">MLCAPE:</text><text x="177.4" y="175.65">0.0 J/kg</text>
<text x="173.4" y="193.65" text-anchor="end">MLCIN:</text><text x="177.4" y="193.65">0.0 J/kg</text>
<text x="173.4" y="211.65" text-anchor="end">MUCAPE:</text><text x="177.4" y="211.65">0.0 J/kg</text>
<text x="173.4" y="229.65" text-anchor="end">Shear 0-1 km:</text><text x="177.4" y="229.65">9.9 m/s</text>
<text x="173.4" y="247.65" text-anchor="end">Shear 0-6 km:</text><text x="177.4" y="247.65">28.9 m/s</text>
<text x="173.4" y="265.65" text-anchor="end">SRH 0-1 km:</text><text x="177.4" y="265.65">-64.5 m²/s²</text>
<text x="173.4" y="283.65" text-anchor="end">SRH 0-3 km:</text><text x="177.4" y="283.65">-158.0 m²/s²</text>
</g>
<circle cx="79.8" cy="871.4" r="22.2" fill="#ffffff" stroke="#b8b8b8" stroke-width="1"/>
<path d="M79.8,849.8 L79.8,871.3 L72.6,883.8" stroke="#00265b" stroke-width="1.4" fill="none" stroke-linejoin="miter"/>
<g font-family="'DejaVu Sans', 'Liberation Sans', sans-serif" fill="#00265b">
<text x="9.6" y="20.8" font-size="25" textLength="829" lengthAdjust="spacing">Philip Airport, SD; Model Run 2026-04-05 12 UTC; WRF Domain 02</text>
<text x="114.5" y="55.9" font-size="20.833" xml:space="preserve" textLength="440" lengthAdjust="spacing">2026-04-05 13 UTC  (2026-04-05 07 MDT)</text>
</g>
<clipPath id="hod"><rect x="690.5" y="82.5" width="189.0" height="189.0"/></clipPath>
<g clip-path="url(#hod)" fill="none" stroke="#808080">
<circle cx="785.00" cy="177.00" r="23.62" stroke-width="1.39" stroke-dasharray="5.14 2.22"/>
<circle cx="785.00" cy="177.00" r="47.25" stroke-width="1.39" stroke-dasharray="5.14 2.22"/>
<circle cx="785.00" cy="177.00" r="70.88" stroke-width="1.39" stroke-dasharray="5.14 2.22"/>
<circle cx="785.00" cy="177.00" r="94.50" stroke-width="1.39" stroke-dasharray="5.14 2.22"/>
<circle cx="785.00" cy="177.00" r="118.12" stroke-width="1.39" stroke-dasharray="5.14 2.22"/>
<path d="M690.5,177.00 L879.5,177.00" stroke-width="2.08" stroke-dasharray="7.71 3.33"/>
<path d="M785.00,271.5 L785.00,82.5" stroke-width="2.08" stroke-dasharray="7.71 3.33"/>
</g><g clip-path="url(#hod)" fill="none" stroke-width="4.17" stroke-linecap="butt">
<path d="M793.10,174.70 L797.20,176.10" stroke="#000080"/>
<path d="M797.20,176.10 L800.90,178.50" stroke="#000080"/>
<path d="M800.90,178.50 L804.20,181.50" stroke="#000084"/>
<path d="M804.20,181.50 L806.00,184.70" stroke="#00008d"/>
<path d="M806.00,184.70 L806.00,186.60" stroke="#0000a0"/>
<path d="M806.00,186.60 L804.70,189.60" stroke="#0000c8"/>
<path d="M804.70,189.60 L805.00,193.90" stroke="#0000e8"/>
<path d="M805.00,193.90 L804.40,198.20" stroke="#0000ff"/>
<path d="M804.40,198.20 L802.50,201.40" stroke="#0010ff"/>
<path d="M802.50,201.40 L805.80,203.00" stroke="#0030ff"/>
<path d="M805.80,203.00 L810.60,205.20" stroke="#0058ff"/>
<path d="M810.60,205.20 L816.00,208.90" stroke="#0078ff"/>
<path d="M816.00,208.90 L821.40,213.30" stroke="#0098ff"/>
<path d="M821.40,213.30 L825.70,216.50" stroke="#00b4ff"/>
<path d="M825.70,216.50 L829.40,218.50" stroke="#00d4ff"/>
<path d="M829.40,218.50 L831.30,218.40" stroke="#20f0de"/>
<path d="M831.30,218.40 L834.00,219.50" stroke="#46ffb0"/>
<path d="M834.00,219.50 L836.70,221.40" stroke="#6cff8a"/>
<path d="M836.70,221.40 L838.90,222.80" stroke="#8cff6a"/>
<path d="M838.90,222.80 L841.00,224.10" stroke="#b0ff46"/>
<path d="M841.00,224.10 L846.40,224.70" stroke="#d4ff22"/>
<path d="M846.40,224.70 L849.10,225.20" stroke="#ffe600"/>
<path d="M849.10,225.20 L852.30,226.30" stroke="#ffc800"/>
<path d="M852.30,226.30 L855.00,227.90" stroke="#ffb000"/>
<path d="M855.00,227.90 L859.20,234.60" stroke="#ff9c00"/>
<path d="M859.20,234.60 L862.80,242.80" stroke="#ff6000"/>
<path d="M862.80,242.80 L863.10,248.50" stroke="#e80000"/>
<path d="M863.10,248.50 L861.80,251.60" stroke="#8b0000"/>
</g>
<rect x="690.5" y="269" width="6.5" height="2" fill="#00265b"/>
<g stroke="#00265b" stroke-width="1.11" fill="none">
<path d="M690.5,82.0 L690.5,272.05"/><path d="M689.95,271.5 L880.05,271.5"/>
<path d="M685.64,271.50 L690.5,271.50"/><path d="M690.50,271.5 L690.50,276.36"/>
<path d="M685.64,224.25 L690.5,224.25"/><path d="M737.75,271.5 L737.75,276.36"/>
<path d="M685.64,177.00 L690.5,177.00"/><path d="M785.00,271.5 L785.00,276.36"/>
<path d="M685.64,129.75 L690.5,129.75"/><path d="M832.25,271.5 L832.25,276.36"/>
<path d="M685.64,82.50 L690.5,82.50"/><path d="M879.50,271.5 L879.50,276.36"/>
</g>
<g font-family="'DejaVu Sans', 'Liberation Sans', sans-serif" font-size="13.889" fill="#00265b">
<text x="680.10" y="276.60" text-anchor="end" letter-spacing="-0.3">−40</text>
<text x="690.00" y="291.90" text-anchor="middle" letter-spacing="-0.3">−40</text>
<text x="680.10" y="229.35" text-anchor="end" letter-spacing="-0.3">−20</text>
<text x="737.25" y="291.90" text-anchor="middle" letter-spacing="-0.3">−20</text>
<text x="680.10" y="182.10" text-anchor="end" letter-spacing="-0.3">0</text>
<text x="784.50" y="291.90" text-anchor="middle" letter-spacing="-0.3">0</text>
<text x="680.10" y="134.85" text-anchor="end" letter-spacing="-0.3">20</text>
<text x="831.75" y="291.90" text-anchor="middle" letter-spacing="-0.3">20</text>
<text x="680.10" y="87.60" text-anchor="end" letter-spacing="-0.3">40</text>
<text x="879.00" y="291.90" text-anchor="middle" letter-spacing="-0.3">40</text>
<text x="785.00" y="306.6" text-anchor="middle">u (m s<tspan font-size="9.72" dy="-5.3">−1</tspan><tspan dy="5.3">)</tspan></text>
<text transform="translate(649.2,177.00) rotate(-90)" text-anchor="middle">v (m s<tspan font-size="9.72" dy="-5.3">−1</tspan><tspan dy="5.3">)</tspan></text>
</g>
<defs><linearGradient id="jet" x1="0" x2="1" y1="0" y2="0"><stop offset="0.0000" stop-color="#000080"/><stop offset="0.0312" stop-color="#0000a4"/><stop offset="0.0625" stop-color="#0000c8"/><stop offset="0.0938" stop-color="#0000ec"/><stop offset="0.1250" stop-color="#0000ff"/><stop offset="0.1562" stop-color="#0020ff"/><stop offset="0.1875" stop-color="#0040ff"/><stop offset="0.2188" stop-color="#0060ff"/><stop offset="0.2500" stop-color="#0080ff"/><stop offset="0.2812" stop-color="#009fff"/><stop offset="0.3125" stop-color="#00bfff"/><stop offset="0.3438" stop-color="#00dffc"/><stop offset="0.3750" stop-color="#15ffe2"/><stop offset="0.4062" stop-color="#2effc9"/><stop offset="0.4375" stop-color="#48ffaf"/><stop offset="0.4688" stop-color="#62ff95"/><stop offset="0.5000" stop-color="#7bff7b"/><stop offset="0.5312" stop-color="#95ff62"/><stop offset="0.5625" stop-color="#afff48"/><stop offset="0.5938" stop-color="#c9ff2e"/><stop offset="0.6250" stop-color="#e2ff15"/><stop offset="0.6562" stop-color="#fcf000"/><stop offset="0.6875" stop-color="#ffd200"/><stop offset="0.7188" stop-color="#ffb500"/><stop offset="0.7500" stop-color="#ff9700"/><stop offset="0.7812" stop-color="#ff7a00"/><stop offset="0.8125" stop-color="#ff5c00"/><stop offset="0.8438" stop-color="#ff3f00"/><stop offset="0.8750" stop-color="#ff2100"/><stop offset="0.9062" stop-color="#ec0400"/><stop offset="0.9375" stop-color="#c80000"/><stop offset="0.9688" stop-color="#a40000"/><stop offset="1.0000" stop-color="#800000"/></linearGradient></defs>
<rect x="650.5" y="312.5" width="270.00" height="13.00" fill="url(#jet)" stroke="#00265b" stroke-width="1.11"/>
<g stroke="#00265b" stroke-width="1.11">
<path d="M650.50,325.5 L650.50,330.36"/>
<path d="M704.50,325.5 L704.50,330.36"/>
<path d="M758.50,325.5 L758.50,330.36"/>
<path d="M812.50,325.5 L812.50,330.36"/>
<path d="M866.50,325.5 L866.50,330.36"/>
<path d="M920.50,325.5 L920.50,330.36"/>
</g>
<g font-family="'DejaVu Sans', 'Liberation Sans', sans-serif" font-size="13.889" fill="#00265b" text-anchor="middle">
<text x="650.50" y="346.40">0</text>
<text x="704.50" y="346.40">2</text>
<text x="758.50" y="346.40">4</text>
<text x="812.50" y="346.40">6</text>
<text x="866.50" y="346.40">8</text>
<text x="920.50" y="346.40">10</text>
<text x="784.50" y="366.0">Height (km AGL)</text>
</g>
</svg></body></html>
